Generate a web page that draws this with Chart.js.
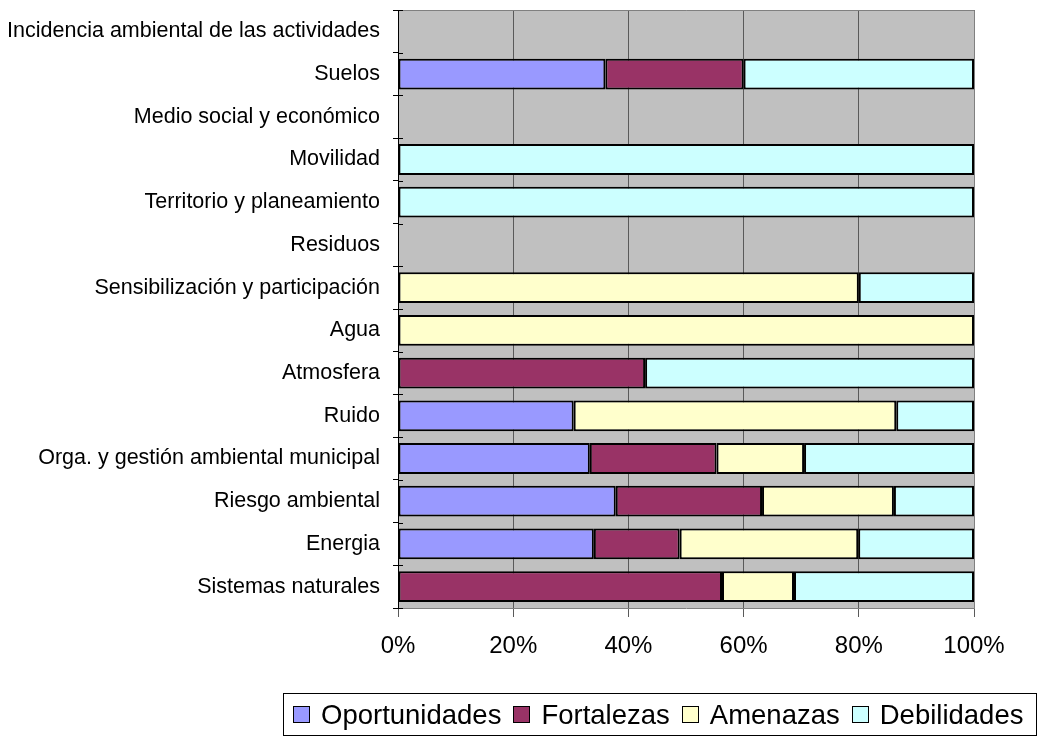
<!DOCTYPE html>
<html>
<head>
    <meta charset="utf-8">
    <title>Análisis por áreas</title>
    <script src="https://cdn.jsdelivr.net/npm/chart.js"></script>
    <style>
        body {
            margin: 0;
            background: #fff;
            font-family: Arial, "Liberation Sans", sans-serif;
        }

        #wrap {
            position: relative;
            width: 1039px;
            height: 737px;
        }

        #legend {
            position: absolute;
            left: 283px;
            top: 693px;
            width: 754px;
            height: 43px;
            border: 1px solid #000;
            display: flex;
            align-items: center;
            padding-left: 9px;
            box-sizing: border-box;
            font-size: 27.5px;
            color: #000;
            white-space: nowrap;
        }

        #legend .box {
            display: inline-block;
            width: 15px;
            height: 15px;
            border: 1px solid #000;
            margin-right: 11px;
        }

        #legend .item {
            display: flex;
            align-items: center;
            margin-right: 12px;
        }
    </style>
</head>

<body>
    <div id="wrap">
        <canvas id="myChart" width="1039" height="737"></canvas>
        <div id="legend"></div>
    </div>

    <script>
        // categories, top to bottom
        var categories = [
            'Incidencia ambiental de las actividades',
            'Suelos',
            'Medio social y económico',
            'Movilidad',
            'Territorio y planeamiento',
            'Residuos',
            'Sensibilización y participación',
            'Agua',
            'Atmosfera',
            'Ruido',
            'Orga. y gestión ambiental municipal',
            'Riesgo ambiental',
            'Energia',
            'Sistemas naturales'
        ];

        // percentages per category
        var oportunidades = [0, 36, 0, 0, 0, 0, 0, 0, 0, 30.5, 33.3, 37.8, 34, 0];
        var fortalezas = [0, 24, 0, 0, 0, 0, 0, 0, 42.9, 0, 22, 25.4, 14.9, 56.25];
        var amenazas = [0, 0, 0, 0, 0, 0, 80, 100, 0, 56, 15.2, 22.9, 31, 12.5];
        var debilidades = [0, 40, 0, 100, 100, 0, 20, 0, 57.1, 13.5, 29.5, 13.9, 20.1, 31.25];

        var xTicks = [0, 20, 40, 60, 80, 100];

        var seriesNames = ['Oportunidades', 'Fortalezas', 'Amenazas', 'Debilidades'];
        var seriesColors = ['#9999FF', '#993366', '#FFFFCC', '#CCFFFF'];
        var seriesData = [oportunidades, fortalezas, amenazas, debilidades];

        var datasets = [];
        for (var i = 0; i < seriesNames.length; i++) {
            datasets.push({
                label: seriesNames[i],
                data: seriesData[i],
                backgroundColor: seriesColors[i],
                borderColor: '#000',
                borderWidth: 2,
                borderSkipped: false,
                barPercentage: 0.72,
                categoryPercentage: 1
            });
        }

        // grey plot area and frame
        var plotArea = {
            id: 'plotArea',
            beforeDraw: function (chart) {
                var a = chart.chartArea;
                var ctx = chart.ctx;
                ctx.save();
                ctx.fillStyle = '#C0C0C0';
                ctx.fillRect(a.left, a.top, a.right - a.left, a.bottom - a.top);
                ctx.restore();
            },
            afterDraw: function (chart) {
                var a = chart.chartArea;
                var ctx = chart.ctx;
                ctx.save();
                ctx.strokeStyle = '#808080';
                ctx.lineWidth = 1;
                ctx.beginPath();
                ctx.moveTo(a.left, a.top + 0.5);
                ctx.lineTo(a.right + 0.5, a.top + 0.5);
                ctx.lineTo(a.right + 0.5, a.bottom);
                ctx.stroke();
                // inner half of the crossing ticks on the category axis
                ctx.strokeStyle = '#000';
                ctx.beginPath();
                for (var k = 0; k <= categories.length; k++) {
                    var py = Math.round(a.top + (a.bottom - a.top) * k / categories.length) + 0.5;
                    ctx.moveTo(a.left, py);
                    ctx.lineTo(a.left + 5, py);
                }
                ctx.stroke();
                ctx.restore();
            }
        };

        var ctx = document.getElementById('myChart').getContext('2d');
        var myChart = new Chart(ctx, {
            type: 'bar',
            data: {
                labels: categories,
                datasets: datasets
            },
            options: {
                indexAxis: 'y',
                responsive: false,
                animation: false,
                layout: {
                    padding: { top: 10, right: 65, bottom: 77, left: 0 }
                },
                plugins: {
                    legend: { display: false },
                    tooltip: { enabled: false }
                },
                scales: {
                    x: {
                        stacked: true,
                        min: 0,
                        max: 100,
                        afterBuildTicks: function (scale) {
                            scale.ticks = xTicks.map(function (v) { return { value: v }; });
                        },
                        afterFit: function (scale) {
                            scale.height = 52;
                            scale.paddingLeft = 0;
                            scale.paddingRight = 0;
                        },
                        ticks: {
                            callback: function (v) { return v + '%'; },
                            color: '#000',
                            font: { family: 'Arial, "Liberation Sans"', size: 24 },
                            padding: 15,
                            maxRotation: 0
                        },
                        grid: {
                            color: '#5a5a5a',
                            lineWidth: 1,
                            tickLength: 9,
                            tickColor: '#5a5a5a'
                        },
                        border: { display: true, color: '#808080' }
                    },
                    y: {
                        stacked: true,
                        afterFit: function (scale) {
                            scale.width = 398;
                            scale.paddingTop = 0;
                            scale.paddingBottom = 0;
                        },
                        ticks: {
                            color: '#000',
                            font: { family: 'Arial, "Liberation Sans"', size: 21.5 },
                            padding: 13,
                            autoSkip: false
                        },
                        grid: {
                            drawOnChartArea: false,
                            offset: true,
                            tickLength: 5,
                            color: '#000'
                        },
                        border: { display: true, color: '#000', width: 1 }
                    }
                }
            },
            plugins: [plotArea]
        });

        // legend below the chart, built from the series
        var legend = document.getElementById('legend');
        for (var i = 0; i < seriesNames.length; i++) {
            var item = document.createElement('span');
            item.className = 'item';
            var box = document.createElement('span');
            box.className = 'box';
            box.style.backgroundColor = seriesColors[i];
            item.appendChild(box);
            var txt = document.createElement('span');
            txt.textContent = seriesNames[i];
            item.appendChild(txt);
            legend.appendChild(item);
        }
    </script>
</body>
</html>
